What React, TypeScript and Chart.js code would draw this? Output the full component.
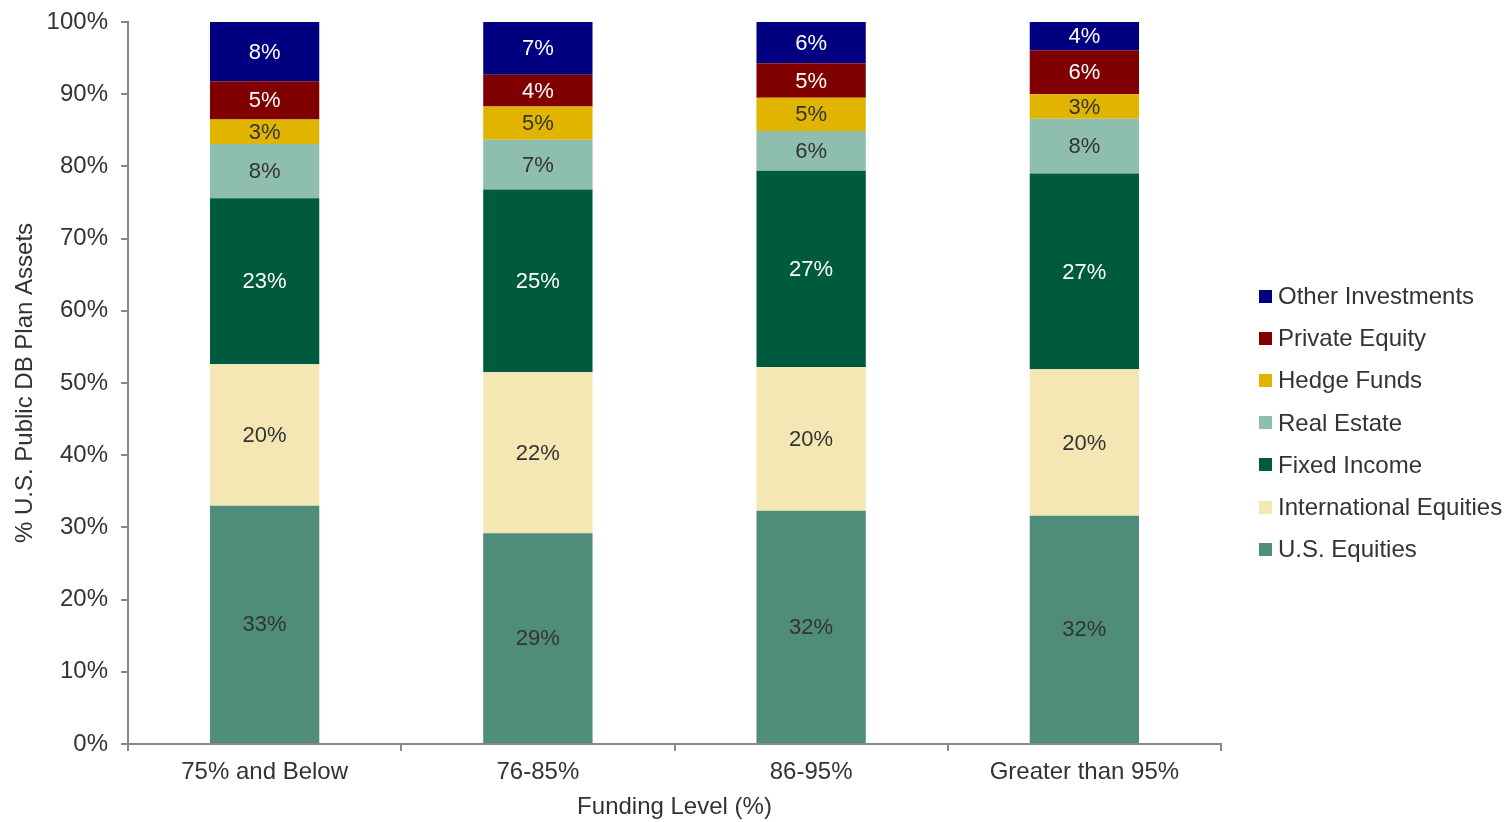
import React, { useEffect, useRef } from "react";
import { Chart, registerables } from "chart.js";

Chart.register(...registerables);

const categories = ["75% and Below", "76-85%", "86-95%", "Greater than 95%"];
const usEquities = [33.0, 29.2, 32.3, 31.6];
const intlEquities = [19.6, 22.3, 19.9, 20.3];
const fixedIncome = [23.0, 25.3, 27.2, 27.1];
const realEstate = [7.5, 6.9, 5.5, 7.6];
const hedgeFunds = [3.4, 4.6, 4.6, 3.4];
const privateEquity = [5.3, 4.4, 4.8, 6.1];
const otherInvestments = [8.2, 7.3, 5.7, 3.9];
const yTicks = [0, 10, 20, 30, 40, 50, 60, 70, 80, 90, 100];

const FONT = "'Liberation Sans', Arial, sans-serif";

const seriesDefs = [
  { label: "U.S. Equities", data: usEquities, color: "#4F8C7A", text: "#333333" },
  { label: "International Equities", data: intlEquities, color: "#F5E7B4", text: "#333333" },
  { label: "Fixed Income", data: fixedIncome, color: "#005A3E", text: "#FFFFFF" },
  { label: "Real Estate", data: realEstate, color: "#8DBEAE", text: "#333333" },
  { label: "Hedge Funds", data: hedgeFunds, color: "#E1B400", text: "#333333" },
  { label: "Private Equity", data: privateEquity, color: "#800000", text: "#FFFFFF" },
  { label: "Other Investments", data: otherInvestments, color: "#000080", text: "#FFFFFF" },
];

const labelPlugin = {
  id: "segLabels",
  afterDatasetsDraw(chart: any) {
    const ctx = chart.ctx;
    ctx.save();
    ctx.font = `22px ${FONT}`;
    ctx.textAlign = "center";
    ctx.textBaseline = "middle";
    chart.data.datasets.forEach((ds: any, i: number) => {
      const meta = chart.getDatasetMeta(i);
      meta.data.forEach((el: any, j: number) => {
        const v = ds.data[j];
        ctx.fillStyle = seriesDefs[i].text;
        ctx.fillText(Math.round(v) + "%", el.x, (el.y + el.base) / 2 + 1);
      });
    });
    ctx.restore();
  },
};

export default function App() {
  const ref = useRef<HTMLCanvasElement | null>(null);

  useEffect(() => {
    document.body.style.margin = "0";
    const chart = new Chart(ref.current as HTMLCanvasElement, {
      type: "bar",
      data: {
        labels: categories,
        datasets: seriesDefs.map((s) => ({
          label: s.label,
          data: s.data,
          backgroundColor: s.color,
          borderWidth: 0,
          categoryPercentage: 1,
          barPercentage: 0.4,
        })),
      },
      options: {
        animation: false,
        responsive: true,
        maintainAspectRatio: false,
        layout: { padding: { left: 7, right: 290, top: 22, bottom: 0 } },
        plugins: {
          legend: { display: false },
          tooltip: { enabled: false },
        },
        scales: {
          x: {
            stacked: true,
            afterFit: (axis: any) => {
              axis.height = 78;
              axis.paddingLeft = 0;
              axis.paddingRight = 0;
            },
            grid: {
              display: true,
              drawOnChartArea: false,
              drawTicks: true,
              tickLength: 7,
              color: "#888888",
              lineWidth: 2,
              offset: true,
            },
            border: { display: true, color: "#888888", width: 2 },
            ticks: {
              color: "#333333",
              font: { family: FONT, size: 24 },
              padding: 7,
              maxRotation: 0,
            },
            title: {
              display: true,
              text: "Funding Level (%)",
              color: "#333333",
              font: { family: FONT, size: 24 },
              padding: { top: 4, bottom: 0 },
            },
          },
          y: {
            stacked: true,
            min: 0,
            max: 100,
            afterBuildTicks: (axis: any) => {
              axis.ticks = yTicks.map((v) => ({ value: v }));
            },
            afterFit: (axis: any) => {
              axis.width = 121;
              axis.paddingTop = 0;
              axis.paddingBottom = 0;
            },
            grid: {
              display: true,
              drawOnChartArea: false,
              drawTicks: true,
              tickLength: 7,
              color: "#888888",
              lineWidth: 2,
            },
            border: { display: true, color: "#888888", width: 2 },
            ticks: {
              color: "#333333",
              font: { family: FONT, size: 24 },
              padding: 13,
              callback: (v: any) => v + "%",
            },
            title: {
              display: true,
              text: "% U.S. Public DB Plan Assets",
              color: "#333333",
              font: { family: FONT, size: 24 },
              padding: { top: 4, bottom: 7 },
            },
          },
        },
      },
      plugins: [labelPlugin],
    });
    return () => chart.destroy();
  }, []);

  const legendItems = [...seriesDefs].reverse();

  return (
    <div style={{ position: "absolute", left: 0, top: 0, width: 1511, height: 822, background: "#fff" }}>
      <canvas ref={ref} />
      <div style={{ position: "absolute", left: 1259, top: 275, fontFamily: FONT, fontSize: 24, color: "#333333" }}>
        {legendItems.map((s) => (
          <div key={s.label} style={{ display: "flex", alignItems: "center", height: 42.2, whiteSpace: "nowrap" }}>
            <span style={{ display: "inline-block", width: 13, height: 13, background: s.color, marginRight: 6 }} />
            <span>{s.label}</span>
          </div>
        ))}
      </div>
    </div>
  );
}
